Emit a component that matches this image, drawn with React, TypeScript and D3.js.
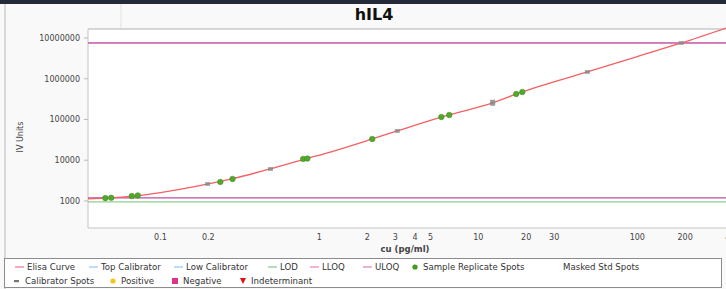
import React from "react";
import * as d3 from "d3";

// values
const xTicks = [0.1, 0.2, 1, 2, 3, 4, 5, 10, 20, 30, 100, 200, 400];
const yTicks = [1000, 10000, 100000, 1000000, 10000000];

// fitted elisa curve (read at points along the line)
const curveConc = [0.035, 0.047, 0.07, 0.1, 0.2, 0.28, 0.49, 0.82, 1.17, 2.15, 3.09, 6.2, 12.3, 18.1, 48.5, 100, 189, 363];
const curveSignal = [1120, 1185, 1330, 1600, 2610, 3470, 6100, 10800, 15900, 33200, 52300, 122000, 254000, 447000, 1466000, 3500000, 7530000, 17600000];

const sampleConc = [0.045, 0.049, 0.066, 0.072, 0.238, 0.284, 0.79, 0.84, 2.15, 5.85, 6.56, 17.3, 18.9];
const sampleSignal = [1175, 1195, 1320, 1365, 2930, 3470, 10700, 11000, 33200, 115000, 129000, 423000, 473000];

const calibConc = [0.198, 0.492, 0.82, 3.09, 12.3, 12.3, 48.5, 189];
const calibSignal = [2610, 6100, 10900, 52300, 240000, 275000, 1466000, 7530000];

const uloq = 7530000;
const topCalibrator = 7600000;
const lloq = 1185;
const lowCalibrator = 1200;
const lod = 945;

const legendRow1 = [
  { label: "Elisa Curve", kind: "line", color: "#f07e9a", x: 15 },
  { label: "Top Calibrator", kind: "line", color: "#9ccfea", x: 89 },
  { label: "Low Calibrator", kind: "line", color: "#8fd0e8", x: 174 },
  { label: "LOD", kind: "line", color: "#8ccc96", x: 268 },
  { label: "LLOQ", kind: "line", color: "#f08cb0", x: 310 },
  { label: "ULOQ", kind: "line", color: "#d98ac8", x: 363 },
  { label: "Sample Replicate Spots", kind: "dot", color: "#3f9a1e", x: 411 },
  { label: "Masked Std Spots", kind: "none", color: "none", x: 559 },
];
const legendRow2 = [
  { label: "Calibrator Spots", kind: "dash", color: "#777", x: 13 },
  { label: "Positive", kind: "dot", color: "#f4c41c", x: 109 },
  { label: "Negative", kind: "square", color: "#e0308a", x: 171 },
  { label: "Indeterminant", kind: "tri", color: "#e01010", x: 239 },
];

const font = "DejaVu Sans, Verdana, sans-serif";

const plot = { left: 88, top: 29, bottom: 228 };

export default function App() {
  const x = d3.scaleLog().domain([0.035, 400]).range([88, 733]);
  const y = d3.scaleLog().domain([217, 16600000]).range([plot.bottom, plot.top]);

  const curvePts: [number, number][] = curveConc.map((c, i) => [x(c), y(curveSignal[i])]);
  const line = d3.line().curve(d3.curveMonotoneX)(curvePts) || "";

  const hLine = (v: number, color: string, w = 1.2) => (
    <line x1={plot.left} x2={726} y1={y(v)} y2={y(v)} stroke={color} strokeWidth={w} />
  );

  const legendMarker = (it: any, cy: number) => {
    if (it.kind === "line") return <line x1={it.x} x2={it.x + 9} y1={cy} y2={cy} stroke={it.color} strokeWidth={1.3} />;
    if (it.kind === "dot") return <circle cx={it.x + 4} cy={cy} r={2.6} fill={it.color} />;
    if (it.kind === "dash") return <rect x={it.x + 1} y={cy - 1} width={5} height={2.2} fill={it.color} />;
    if (it.kind === "square") return <rect x={it.x + 1} y={cy - 3} width={6} height={6} fill={it.color} />;
    if (it.kind === "tri") return <path d={`M${it.x + 1},${cy - 3}L${it.x + 7},${cy - 3}L${it.x + 4},${cy + 3}Z`} fill={it.color} />;
    return null;
  };

  return (
    <svg
      width={726}
      height={289}
      style={{ position: "absolute", left: 0, top: 0, overflow: "hidden", fontFamily: font }}
    >
      <rect x={0} y={0} width={726} height={289} fill="#f9f9f9" />
      <rect x={0} y={0} width={726} height={4} fill="#252a38" />
      <line x1={5} x2={5} y1={4} y2={289} stroke="#b8b8b8" />
      <line x1={121} x2={121} y1={4} y2={plot.top} stroke="#e2e2e2" />

      <text x={374} y={20} textAnchor="middle" fontSize={16} fontWeight="bold" fill="#111">
        hIL4
      </text>

      {/* plot area */}
      <rect x={plot.left} y={plot.top} width={726 - plot.left} height={plot.bottom - plot.top} fill="#fff" />
      <line x1={plot.left} x2={726} y1={plot.top} y2={plot.top} stroke="#b0b0b0" />
      <line x1={plot.left} x2={plot.left} y1={plot.top} y2={plot.bottom} stroke="#c4c4c4" />
      <line x1={plot.left} x2={726} y1={plot.bottom} y2={plot.bottom} stroke="#c4c4c4" />

      {/* y axis */}
      {yTicks.map((t) => (
        <g key={t}>
          <line x1={plot.left - 4} x2={plot.left} y1={y(t)} y2={y(t)} stroke="#bbb" />
          <text x={80} y={y(t)} dy="0.35em" textAnchor="end" fontSize={8} fill="#444">
            {t}
          </text>
        </g>
      ))}
      <text transform="translate(23,137) rotate(-90)" textAnchor="middle" fontSize={8} fill="#444">
        IV Units
      </text>

      {/* x axis */}
      {xTicks.map((t) => (
        <text key={t} x={x(t)} y={240} textAnchor="middle" fontSize={8} fill="#444">
          {String(t)}
        </text>
      ))}
      <text x={405} y={252} textAnchor="middle" fontSize={8.5} fontWeight="bold" fill="#444">
        cu (pg/ml)
      </text>

      {/* reference lines */}
      {hLine(topCalibrator, "#a9d6ee", 1)}
      {hLine(uloq, "#d35aa6", 1.3)}
      {hLine(lod, "#8fcf8f", 1.2)}
      {hLine(lowCalibrator, "#a9d6ee", 1)}
      {hLine(lloq, "#cf5aa8", 1.3)}

      {/* elisa curve */}
      <path d={line} fill="none" stroke="#f45f62" strokeWidth={1.3} />

      {/* spots */}
      {calibConc.map((c, i) => (
        <rect key={"c" + i} x={x(c) - 2.5} y={y(calibSignal[i]) - 1.8} width={5} height={3.6} fill="#8a8a8a" opacity={0.85} />
      ))}
      {sampleConc.map((c, i) => (
        <circle key={"s" + i} cx={x(c)} cy={y(sampleSignal[i])} r={2.8} fill="#52a82a" stroke="#3d8a1c" strokeWidth={0.5} />
      ))}

      {/* legend */}
      <rect x={4.5} y={258.5} width={717} height={29} fill="#fff" stroke="#8c8c8c" />
      {legendRow1.map((it) => (
        <g key={it.label}>
          {legendMarker(it, 267)}
          <text x={it.x + (it.kind === "none" ? 4 : 12)} y={267} dy="0.35em" fontSize={8.6} fill="#333">
            {it.label}
          </text>
        </g>
      ))}
      {legendRow2.map((it) => (
        <g key={it.label}>
          {legendMarker(it, 281)}
          <text x={it.x + 12} y={281} dy="0.35em" fontSize={8.6} fill="#333">
            {it.label}
          </text>
        </g>
      ))}
    </svg>
  );
}
